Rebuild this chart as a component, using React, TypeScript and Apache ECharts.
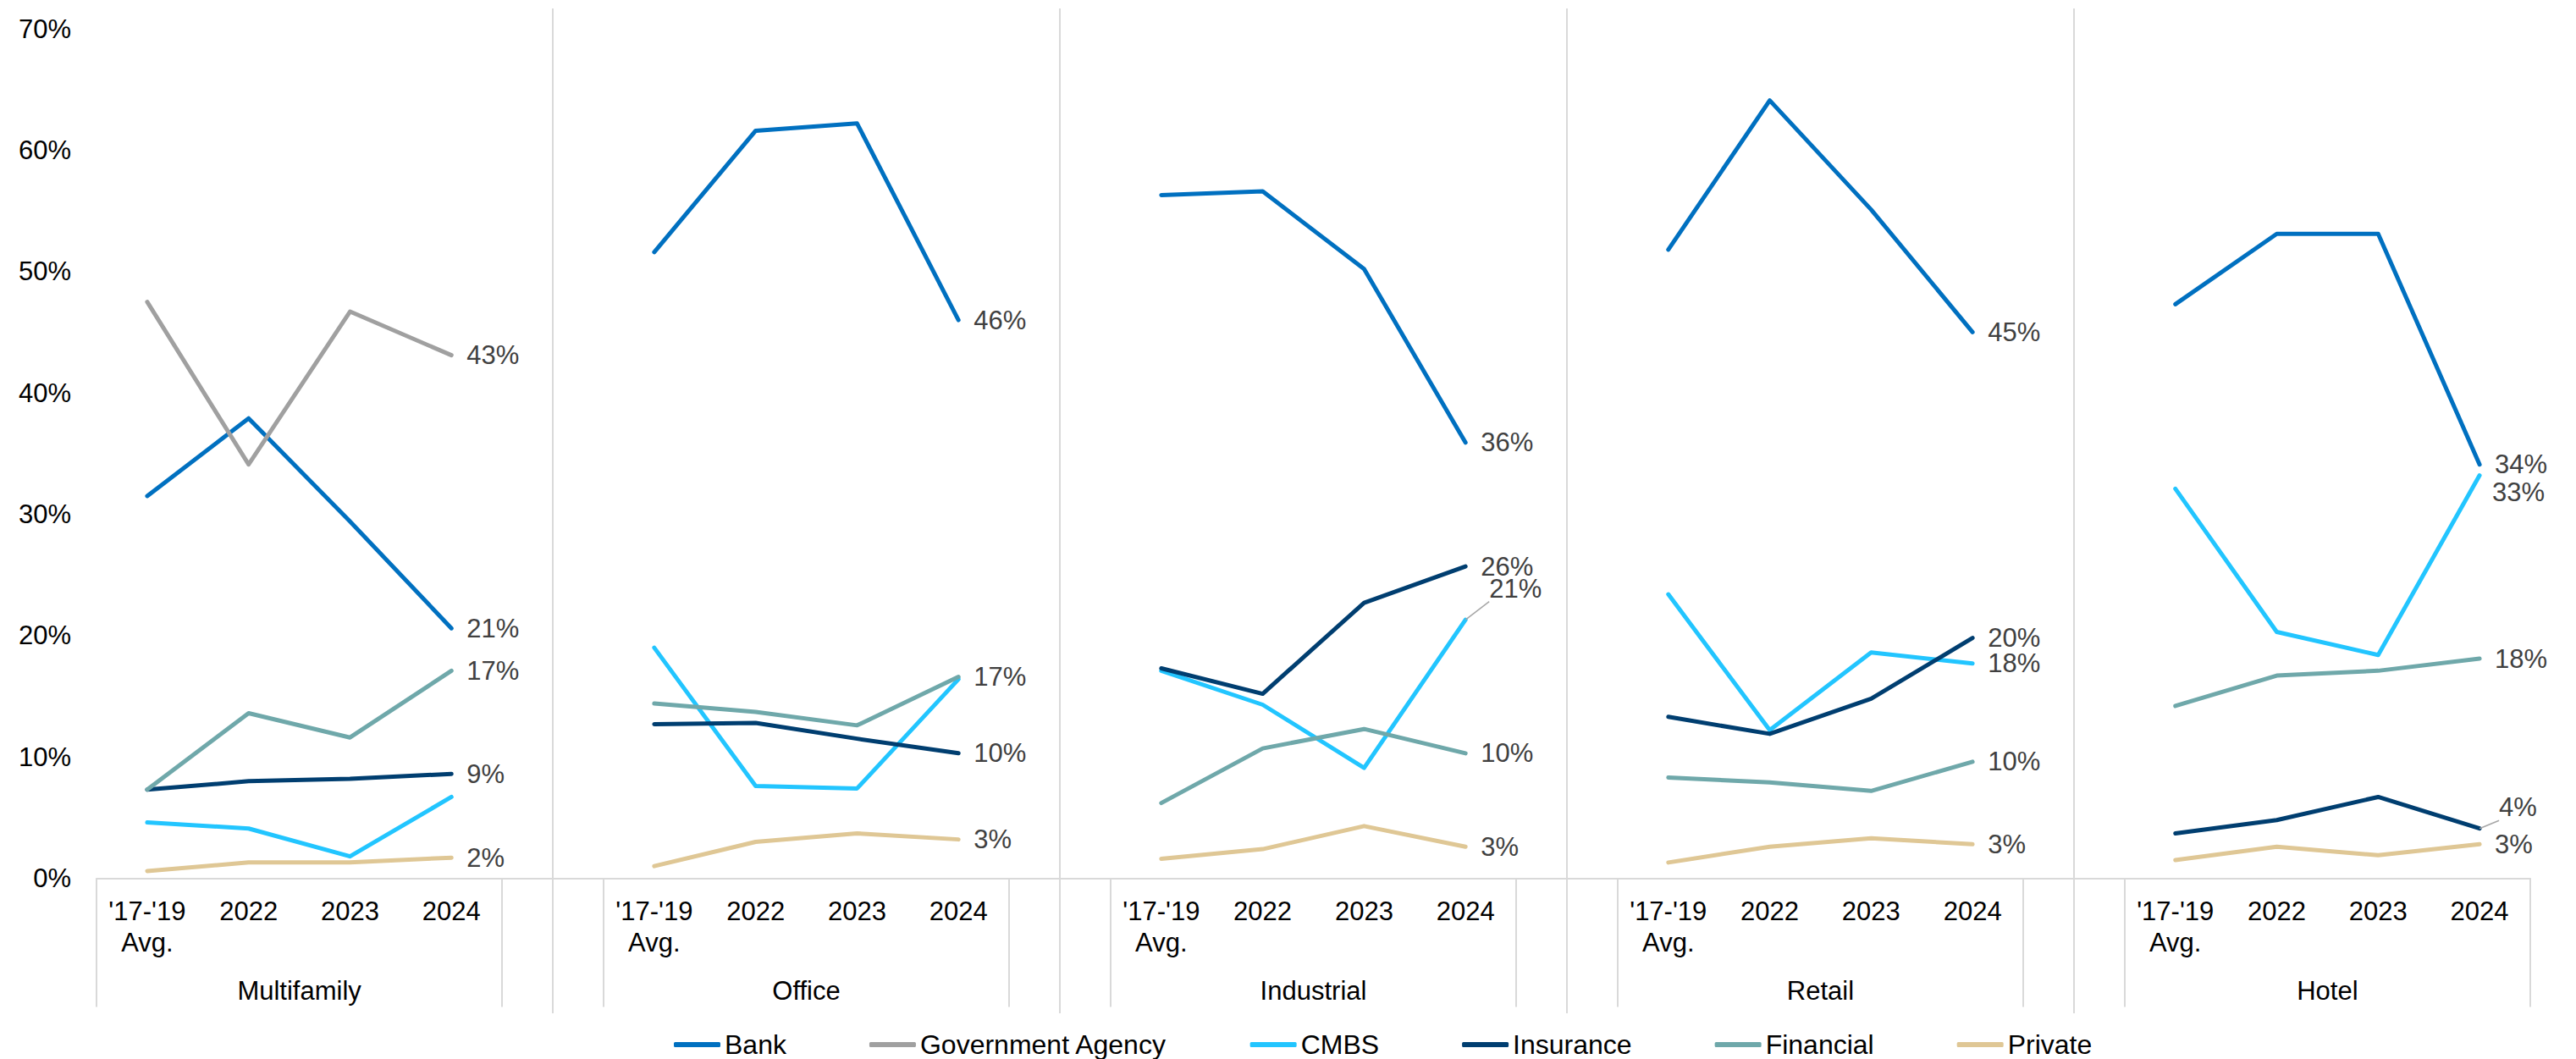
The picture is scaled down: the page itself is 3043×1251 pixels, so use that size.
import React, { useEffect, useRef } from 'react';
import * as echarts from 'echarts';

// ---- Data (percent shares) ----
const groups = ['Multifamily', 'Office', 'Industrial', 'Retail', 'Hotel'];
const periods = ["'17-'19\nAvg.", '2022', '2023', '2024'];

const bank = [[31.5, 37.9, 29.4, 20.6], [51.6, 61.6, 62.2, 46.0], [56.3, 56.6, 50.2, 35.9], [51.8, 64.1, 55.1, 45.0], [47.3, 53.1, 53.1, 34.1]];
const govAgency = [[47.5, 34.1, 46.7, 43.1], null, null, null, null];
const cmbs = [[4.6, 4.1, 1.8, 6.7], [19.0, 7.6, 7.4, 16.4], [17.1, 14.3, 9.1, 21.3], [23.4, 12.2, 18.6, 17.7], [32.1, 20.3, 18.4, 33.2]];
const insurance = [[7.3, 8.0, 8.2, 8.6], [12.7, 12.8, 11.5, 10.3], [17.3, 15.2, 22.7, 25.7], [13.3, 11.9, 14.8, 19.8], [3.7, 4.8, 6.7, 4.1]];
const financial = [[7.3, 13.6, 11.6, 17.1], [14.4, 13.7, 12.6, 16.6], [6.2, 10.7, 12.3, 10.3], [8.3, 7.9, 7.2, 9.6], [14.2, 16.7, 17.1, 18.1]];
const privateLenders = [[0.6, 1.3, 1.3, 1.7], [1.0, 3.0, 3.7, 3.2], [1.6, 2.4, 4.3, 2.6], [1.3, 2.6, 3.3, 2.8], [1.5, 2.6, 1.9, 2.8]];

const seriesNames = ['Bank', 'Government Agency', 'CMBS', 'Insurance', 'Financial', 'Private'];
const seriesValues = [bank, govAgency, cmbs, insurance, financial, privateLenders];
const seriesColors = ['#0070C0', '#A0A0A0', '#22C5FF', '#003E70', '#6FA8AA', '#DFC795'];

// end-point labels that are not shown in the reference
const unlabeled = ['CMBS|Multifamily', 'CMBS|Office'];
// label nudges [dx, dy, leader line length (0 = none)]
const labelNudge: Record<string, [number, number, number]> = {
  'CMBS|Industrial': [10, -37, 18],
  'CMBS|Hotel': [-3, 20, 0],
  'Insurance|Hotel': [5, -25, 21],
};

const FONT = '"Liberation Sans", Arial, sans-serif';

export default function App() {
  const ref = useRef<HTMLDivElement>(null);

  useEffect(() => {
    if (!ref.current) return;
    const chart = echarts.init(ref.current, undefined, { renderer: 'svg' });

    const per = periods.length;
    const slot = per + 1;
    const nCat = groups.length * slot - 1;

    const catLabels: string[] = [];
    groups.forEach((g, gi) => {
      periods.forEach((p) => catLabels.push(p));
      if (gi < groups.length - 1) catLabels.push('');
    });
    const groupLabels: string[] = new Array(nCat + 1).fill('');
    groups.forEach((g, gi) => {
      groupLabels[gi * slot + per / 2] = g;
    });

    const tickIdx = new Set<number>();
    groups.forEach((g, gi) => {
      tickIdx.add(gi * slot);
      if (gi < groups.length - 1) tickIdx.add(gi * slot + per);
    });
    const separatorIdx = groups.slice(0, -1).map((g, gi) => gi * slot + per);

    const lineSeries = seriesNames.map((name, si) => {
      const data: any[] = new Array(nCat).fill('-');
      seriesValues[si].forEach((vals, gi) => {
        if (!vals) return;
        vals.forEach((v, pi) => {
          const idx = gi * slot + pi;
          if (pi === per - 1) {
            const key = name + '|' + groups[gi];
            if (unlabeled.includes(key)) {
              data[idx] = v;
            } else {
              const n = labelNudge[key];
              data[idx] = {
                value: v,
                label: { show: true, offset: n ? [n[0], n[1]] : [0, 0] },
                labelLine: n && n[2] ? { show: true, length2: n[2] } : { show: false },
              };
            }
          } else {
            data[idx] = v;
          }
        });
      });
      return {
        type: 'line',
        name,
        xAxisIndex: 0,
        yAxisIndex: 0,
        data,
        symbol: 'circle',
        symbolSize: 0,
        showSymbol: true,
        showAllSymbol: true,
        connectNulls: false,
        silent: true,
        itemStyle: { color: seriesColors[si] },
        lineStyle: { color: seriesColors[si], width: 5, cap: 'round', join: 'round' },
        label: {
          show: false,
          position: 'right',
          distance: 18,
          fontSize: 31,
          fontFamily: FONT,
          color: '#404040',
          formatter: (p: any) => Math.round(p.value) + '%',
        },
        labelLine: { show: false, length2: 13, lineStyle: { color: '#A6A6A6', width: 1.5 } },
        emphasis: { disabled: true },
      };
    });

    const option: any = {
      animation: false,
      backgroundColor: '#ffffff',
      textStyle: { fontFamily: FONT },
      grid: [
        { left: 114, right: 54, top: 34, bottom: 213.5, containLabel: false },
        { left: 114, right: 54, top: 10, bottom: 54, containLabel: false },
      ],
      legend: {
        data: seriesNames,
        left: 791,
        top: 1212,
        icon: 'roundRect',
        itemWidth: 55,
        itemHeight: 6,
        itemGap: 98,
        textStyle: { fontSize: 32, lineHeight: 34, color: '#000', fontFamily: FONT },
        selectedMode: false,
      },
      xAxis: [
        {
          type: 'category',
          gridIndex: 0,
          data: catLabels,
          boundaryGap: true,
          axisLine: { show: true, lineStyle: { color: '#D9D9D9', width: 2 } },
          axisTick: {
            show: true,
            length: 152,
            interval: (i: number) => tickIdx.has(i),
            lineStyle: { color: '#D9D9D9', width: 2 },
          },
          axisLabel: { interval: 0, fontSize: 31, lineHeight: 37, color: '#000', margin: 20, fontFamily: FONT },
          splitLine: { show: false },
        },
        {
          type: 'category',
          gridIndex: 0,
          position: 'bottom',
          offset: 94,
          data: groupLabels,
          boundaryGap: false,
          axisLine: { show: false },
          axisTick: { show: false },
          axisLabel: { interval: 0, fontSize: 31, lineHeight: 37, color: '#000', margin: 20, fontFamily: FONT },
          splitLine: { show: false },
        },
        {
          type: 'category',
          gridIndex: 1,
          data: catLabels.map((c, i) => String(i)),
          boundaryGap: true,
          show: false,
        },
      ],
      yAxis: [
        {
          type: 'value',
          gridIndex: 0,
          min: 0,
          max: 70,
          interval: 10,
          axisLine: { show: false },
          axisTick: { show: false },
          splitLine: { show: false },
          axisLabel: { formatter: '{value}%', fontSize: 31, color: '#000', margin: 30, fontFamily: FONT },
        },
        { type: 'value', gridIndex: 1, min: 0, max: 1, show: false },
      ],
      series: [
        {
          type: 'line',
          name: 'separators',
          xAxisIndex: 2,
          yAxisIndex: 1,
          data: new Array(nCat).fill('-'),
          silent: true,
          symbol: 'none',
          markLine: {
            silent: true,
            symbol: ['none', 'none'],
            label: { show: false },
            emphasis: { disabled: true },
            lineStyle: { color: '#D9D9D9', width: 2, type: 'solid' },
            data: separatorIdx.map((i) => ({ xAxis: i })),
          },
        },
        ...lineSeries,
      ],
    };

    chart.setOption(option);
    return () => chart.dispose();
  }, []);

  return (
    <div
      ref={ref}
      style={{ position: 'fixed', left: 0, top: 0, width: 3043, height: 1251, background: '#fff' }}
    />
  );
}
